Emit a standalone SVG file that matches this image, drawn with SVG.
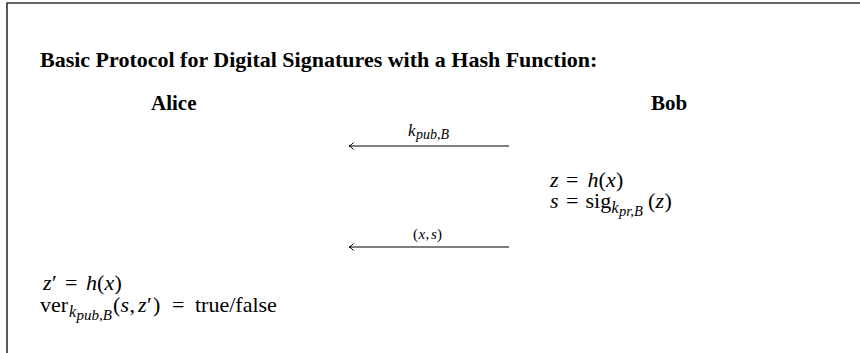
<svg xmlns="http://www.w3.org/2000/svg" width="860" height="353" viewBox="0 0 860 353">
<style>
text{font-family:"Liberation Serif","Times New Roman",serif;fill:#000}
.t{font-weight:bold;font-size:22px}
.h{font-weight:bold;font-size:21px}
.m{font-size:22px}
.i{font-style:italic;font-family:"Liberation Serif","Times New Roman",serif}
.arr{stroke:#000;stroke-width:1;fill:none}
</style>
<defs>
<marker id="ah" markerWidth="10" markerHeight="10" refX="5" refY="5" orient="auto" markerUnits="userSpaceOnUse">
<path d="M0.5,1.5 Q3,4.5 5,5 Q3,5.5 0.5,8.5" fill="none" stroke="#000" stroke-width="1"/>
</marker>
</defs>
<rect width="860" height="353" fill="#fff"/>
<path d="M7,353 V3 H860" fill="none" stroke="#333" stroke-width="1.6"/>
<g id="title"><text class="t" x="40" y="67">Basic Protocol for Digital Signatures with a Hash Function:</text></g>
<g id="alice"><text class="h" x="151" y="110">Alice</text>
<text class="m" y="290"><tspan class="i" x="43">z</tspan><tspan x="52">′</tspan><tspan x="65">=</tspan><tspan class="i" x="86">h</tspan><tspan x="97">(</tspan><tspan class="i" x="104.5">x</tspan><tspan x="114.5">)</tspan></text>
<text class="m" y="312"><tspan x="40">ver</tspan><tspan class="i" font-size="16" x="69" y="317">k</tspan><tspan class="i" font-size="15" x="76.5" y="320">pub,B</tspan><tspan x="113" y="312">(</tspan><tspan class="i" x="120.5">s</tspan><tspan x="129.5">,</tspan><tspan class="i" x="138">z</tspan><tspan x="147">′</tspan><tspan x="153">)</tspan><tspan x="172">=</tspan><tspan x="195">true/false</tspan></text>
</g>
<g id="bob"><text class="h" x="651" y="110">Bob</text>
<text class="m" y="187"><tspan class="i" x="550">z</tspan><tspan x="566">=</tspan><tspan class="i" x="587.5">h</tspan><tspan x="598.5">(</tspan><tspan class="i" x="606">x</tspan><tspan x="616">)</tspan></text>
<text class="m" y="208"><tspan class="i" x="550">s</tspan><tspan x="566">=</tspan><tspan x="585.5">sig</tspan><tspan class="i" font-size="16" x="611.5" y="213">k</tspan><tspan class="i" font-size="14.5" x="619" y="216">pr,B</tspan><tspan x="648" y="208">(</tspan><tspan class="i" x="655.5">z</tspan><tspan x="664.5">)</tspan></text>
</g>
<g id="connectors">
<line class="arr" x1="509" y1="146" x2="349" y2="146" marker-end="url(#ah)"/>
<text y="136" font-size="17" class="i"><tspan x="408">k</tspan><tspan font-size="14" x="416" y="139">pub,B</tspan></text>
<line class="arr" x1="509" y1="247" x2="349" y2="247" marker-end="url(#ah)"/>
<text y="239" font-size="15"><tspan x="413">(</tspan><tspan class="i" x="418.5">x</tspan><tspan x="425.5">,</tspan><tspan class="i" x="431">s</tspan><tspan x="437">)</tspan></text>
</g>
</svg>
